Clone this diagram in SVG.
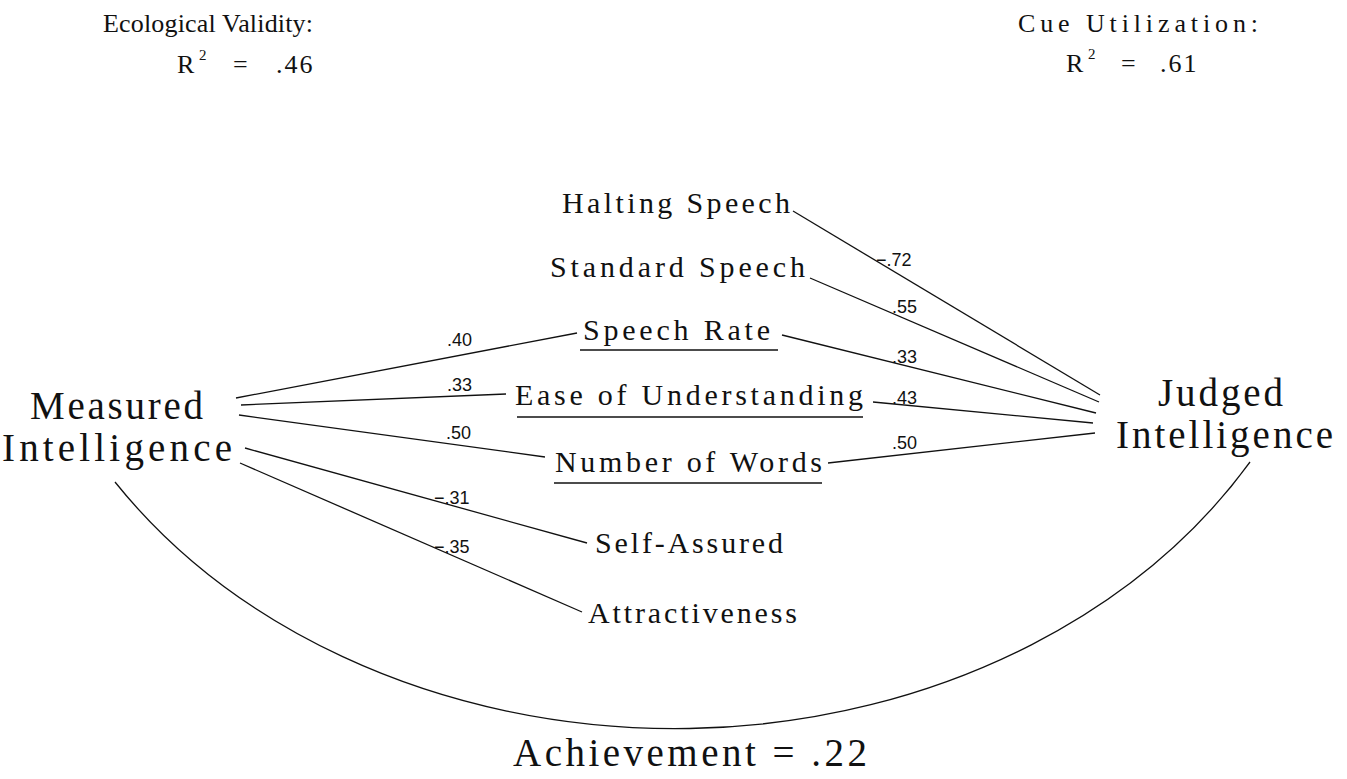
<svg xmlns="http://www.w3.org/2000/svg" width="1347" height="779" viewBox="0 0 1347 779">
<style>
.t{font-family:"Liberation Serif","Times New Roman",serif;fill:#111}
.h{font-size:26px}
.m{font-size:30px}
.b{font-size:39px}
.n{font-family:"Liberation Sans",Arial,sans-serif;font-size:18px;fill:#111}
.c line,.c path{stroke:#111;stroke-width:1.3;fill:none}
.u{stroke:#111;stroke-width:1.3}
</style>
<rect width="1347" height="779" fill="#fff"/>
<g id="ecological-validity">
<text class="t h" x="103" y="32" textLength="210" lengthAdjust="spacing">Ecological Validity:</text>
<text class="t h" x="177" y="73">R<tspan x="199" y="60" font-size="15">2</tspan><tspan x="233" y="73">=</tspan><tspan x="276" y="73" letter-spacing="2">.46</tspan></text>
</g>
<g id="cue-utilization">
<text class="t h" x="1018" y="32" textLength="240" lengthAdjust="spacing">Cue Utilization:</text>
<text class="t h" x="1066" y="72">R<tspan x="1088" y="59" font-size="15">2</tspan><tspan x="1121" y="72">=</tspan><tspan x="1160" y="72" letter-spacing="2">.61</tspan></text>
</g>
<g class="c" id="connectors">
<line x1="236" y1="398" x2="577" y2="333"/>
<line x1="241" y1="405" x2="506" y2="394"/>
<line x1="239" y1="415" x2="545" y2="457"/>
<line x1="245" y1="448" x2="587" y2="543"/>
<line x1="240" y1="463" x2="582" y2="612"/>
<line x1="793" y1="211" x2="1100" y2="395"/>
<line x1="810" y1="278" x2="1099" y2="402"/>
<line x1="782" y1="335" x2="1096" y2="413"/>
<line x1="873" y1="402" x2="1093" y2="423"/>
<line x1="828" y1="463" x2="1095" y2="433"/>
<path d="M115,482 A669,545 0 0 0 1250,462"/>
</g>
<g id="edge-labels">
<text class="n" x="447" y="346">.40</text>
<text class="n" x="447" y="391">.33</text>
<text class="n" x="446" y="439">.50</text>
<text class="n" x="434" y="504">−.31</text>
<text class="n" x="434" y="553">−.35</text>
<text class="n" x="876" y="266">−.72</text>
<text class="n" x="892" y="313">.55</text>
<text class="n" x="892" y="363">.33</text>
<text class="n" x="892" y="404">.43</text>
<text class="n" x="892" y="449">.50</text>
</g>
<g id="measured-intelligence">
<text class="t b" x="30" y="419" textLength="173" lengthAdjust="spacing">Measured</text>
<text class="t b" x="2" y="461" textLength="230" lengthAdjust="spacing">Intelligence</text>
</g>
<g id="judged-intelligence">
<text class="t b" x="1158" y="406" textLength="125" lengthAdjust="spacing">Judged</text>
<text class="t b" x="1116" y="448" textLength="217" lengthAdjust="spacing">Intelligence</text>
</g>
<g id="halting-speech"><text class="t m" x="562" y="213" textLength="228" lengthAdjust="spacing">Halting Speech</text></g>
<g id="standard-speech"><text class="t m" x="550" y="277" textLength="255" lengthAdjust="spacing">Standard Speech</text></g>
<g id="speech-rate"><text class="t m" x="583" y="340" textLength="187" lengthAdjust="spacing">Speech Rate</text><line class="u" x1="580" y1="350" x2="778" y2="350"/></g>
<g id="ease-of-understanding"><text class="t m" x="515" y="405" textLength="348" lengthAdjust="spacing">Ease of Understanding</text><line class="u" x1="517" y1="417" x2="863" y2="417"/></g>
<g id="number-of-words"><text class="t m" x="555" y="472" textLength="267" lengthAdjust="spacing">Number of Words</text><line class="u" x1="554" y1="483" x2="822" y2="483"/></g>
<g id="self-assured"><text class="t m" x="595" y="553" textLength="188" lengthAdjust="spacing">Self-Assured</text></g>
<g id="attractiveness"><text class="t m" x="588" y="623" textLength="209" lengthAdjust="spacing">Attractiveness</text></g>
<g id="achievement"><text class="t b" x="513" y="766" textLength="354" lengthAdjust="spacing">Achievement = .22</text></g>
</svg>
